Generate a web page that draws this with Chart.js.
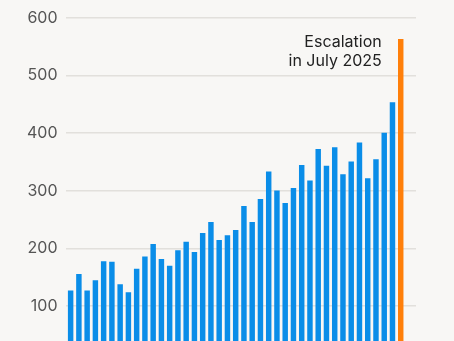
<!DOCTYPE html>
<html>
<head>
<meta charset="utf-8">
<script src="https://cdn.jsdelivr.net/npm/chart.js@4.4.1/dist/chart.umd.min.js"></script>
<style>
	html, body { margin: 0; padding: 0; background: #f8f7f5; }
	#wrap { width: 454px; height: 341px; position: relative; }
</style>
</head>
<body>
<div id="wrap"><canvas id="myChart"></canvas></div>
<script>
// months, Mar 2022 -> Jul 2025
const months = [
	"Mar 2022", "Apr 2022", "May 2022", "Jun 2022", "Jul 2022", "Aug 2022", "Sep 2022", "Oct 2022", "Nov 2022", "Dec 2022",
	"Jan 2023", "Feb 2023", "Mar 2023", "Apr 2023", "May 2023", "Jun 2023", "Jul 2023", "Aug 2023", "Sep 2023", "Oct 2023", "Nov 2023", "Dec 2023",
	"Jan 2024", "Feb 2024", "Mar 2024", "Apr 2024", "May 2024", "Jun 2024", "Jul 2024", "Aug 2024", "Sep 2024", "Oct 2024", "Nov 2024", "Dec 2024",
	"Jan 2025", "Feb 2025", "Mar 2025", "Apr 2025", "May 2025", "Jun 2025", "Jul 2025"
];
const counts = [
	126, 155, 126, 144, 177, 176, 137, 123, 164, 185,
	207, 181, 169, 196, 211, 193, 226, 245, 214, 222, 231, 273,
	245, 285, 333, 300, 278, 304, 344, 317, 372, 343, 375, 328,
	350, 383, 321, 354, 400, 453, 563
];
const yTicks = [100, 200, 300, 400, 500, 600];
const noteLines = ["Escalation", "in July 2025"];

const blue = "#0a8de8", orange = "#ff7f0a";

//the last month is highlighted
let barColors = counts.map((v, i) => i == counts.length - 1 ? orange : blue);
let points = counts.map((v, i) => ({ x: i, y: v }));

//annotation next to the highlighted bar
const notePlugin = {
	id: "note",
	afterDatasetsDraw(chart) {
		let ctx = chart.ctx;
		let last = counts.length - 1;
		let x = chart.scales.x.getPixelForValue(last) - 19;
		let y = chart.scales.y.getPixelForValue(counts[last]) + 3;
		ctx.save();
		ctx.fillStyle = "#222222";
		ctx.font = "16px Inter";
		ctx.textAlign = "right";
		ctx.textBaseline = "middle";
		for (let i = 0; i < noteLines.length; i++) {
			ctx.fillText(noteLines[i], x, y + i * 19);
		}
		ctx.restore();
	}
};

window.myChart = new Chart(document.getElementById("myChart").getContext("2d"), {
	type: "bar",
	data: {
		datasets: [{
			data: points,
			backgroundColor: barColors,
			borderWidth: 0,
			barThickness: 4.8
		}]
	},
	options: {
		responsive: true,
		maintainAspectRatio: false,
		animation: false,
		layout: { padding: { left: 19, right: 38, top: 18, bottom: 0 } },
		plugins: {
			legend: { display: false },
			tooltip: {
				callbacks: { title: (items) => months[items[0].parsed.x] }
			}
		},
		scales: {
			x: {
				type: "linear",
				min: -0.62,
				max: 41.85,
				offset: false,
				grid: { offset: false },
				display: false
			},
			y: {
				min: 39,
				max: 600,
				border: { display: false },
				grid: { color: "#e2e0dc", lineWidth: 1.5, drawTicks: false },
				afterBuildTicks: (scale) => { scale.ticks = yTicks.map(v => ({ value: v })) },
				afterFit: (scale) => { scale.paddingTop = 0; scale.paddingBottom = 0 },
				ticks: {
					padding: 8,
					color: "#555555",
					font: { family: "Inter", size: 16 }
				}
			}
		}
	},
	plugins: [notePlugin]
}); //end of chart
</script>
</body>
</html>
